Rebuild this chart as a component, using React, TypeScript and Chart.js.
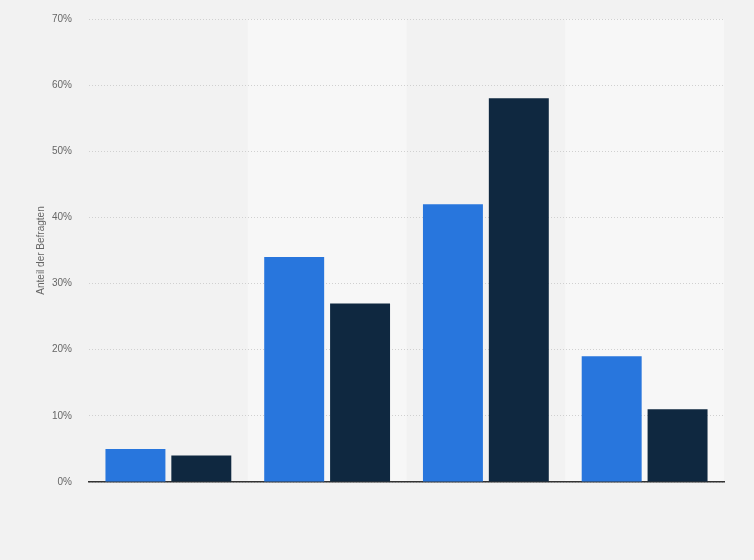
import React, { useEffect, useRef } from "react";
import { Chart, registerables } from "chart.js";

Chart.register(...registerables);

const categories = ["A", "B", "C", "D"];
const seriesBlue = [5, 34, 42, 19];
const seriesDark = [4, 27, 58, 11];
const yTicks = [0, 10, 20, 30, 40, 50, 60, 70];

const bandPlugin = {
  id: "bands",
  beforeDraw(chart: any) {
    const { ctx, chartArea, scales } = chart;
    const x = scales.x;
    const n = categories.length;
    const w = (chartArea.right - chartArea.left) / n;
    ctx.save();
    ctx.fillStyle = "#f7f7f7";
    for (let i = 0; i < n; i++) {
      if (i % 2 === 1) {
        const c = x.getPixelForValue(i);
        ctx.fillRect(c - w / 2, chartArea.top, w, chartArea.bottom - chartArea.top);
      }
    }
    ctx.restore();
  },
};

export default function App() {
  const ref = useRef<HTMLCanvasElement>(null);
  useEffect(() => {
    document.body.style.margin = "0";
    const chart = new Chart(ref.current!, {
      type: "bar",
      data: {
        labels: categories,
        datasets: [
          { data: seriesBlue, backgroundColor: "#2876dd", categoryPercentage: 0.83, barPercentage: 0.91 },
          { data: seriesDark, backgroundColor: "#0f2840", categoryPercentage: 0.83, barPercentage: 0.91 },
        ],
      },
      options: {
        animation: false,
        responsive: false,
        maintainAspectRatio: false,
        layout: { padding: { left: 0, right: 30, top: 19, bottom: 70 } },
        plugins: { legend: { display: false }, tooltip: { enabled: false } },
        scales: {
          x: {
            grid: { display: false },
            border: { display: true, color: "#333333", width: 1.5 },
            ticks: { display: false },
          },
          y: {
            min: 0,
            max: 70,
            afterFit(scale: any) {
              scale.width = 89;
            },
            afterBuildTicks(scale: any) {
              scale.ticks = yTicks.map((v) => ({ value: v }));
            },
            grid: {
              color: "#d0d0d0",
              drawTicks: true,
              tickLength: 16,
              tickColor: "rgba(0,0,0,0)",
              lineWidth: 1,
            },
            border: { display: false, dash: [1, 2] },
            ticks: {
              padding: 1,
              color: "#666666",
              font: { family: "'Liberation Sans', Arial, sans-serif", size: 10 },
              callback: (v: any) => v + "%",
            },
            title: {
              display: true,
              text: "Anteil der Befragten",
              color: "#666666",
              font: { family: "'Liberation Sans', Arial, sans-serif", size: 10 },
              padding: { top: 35, bottom: 0 },
            },
          },
        },
      },
      plugins: [bandPlugin],
    });
    return () => chart.destroy();
  }, []);
  return (
    <div style={{ width: 754, height: 560, background: "#f2f2f2" }}>
      <canvas ref={ref} width={754} height={560} style={{ width: 754, height: 560, display: "block" }} />
    </div>
  );
}
